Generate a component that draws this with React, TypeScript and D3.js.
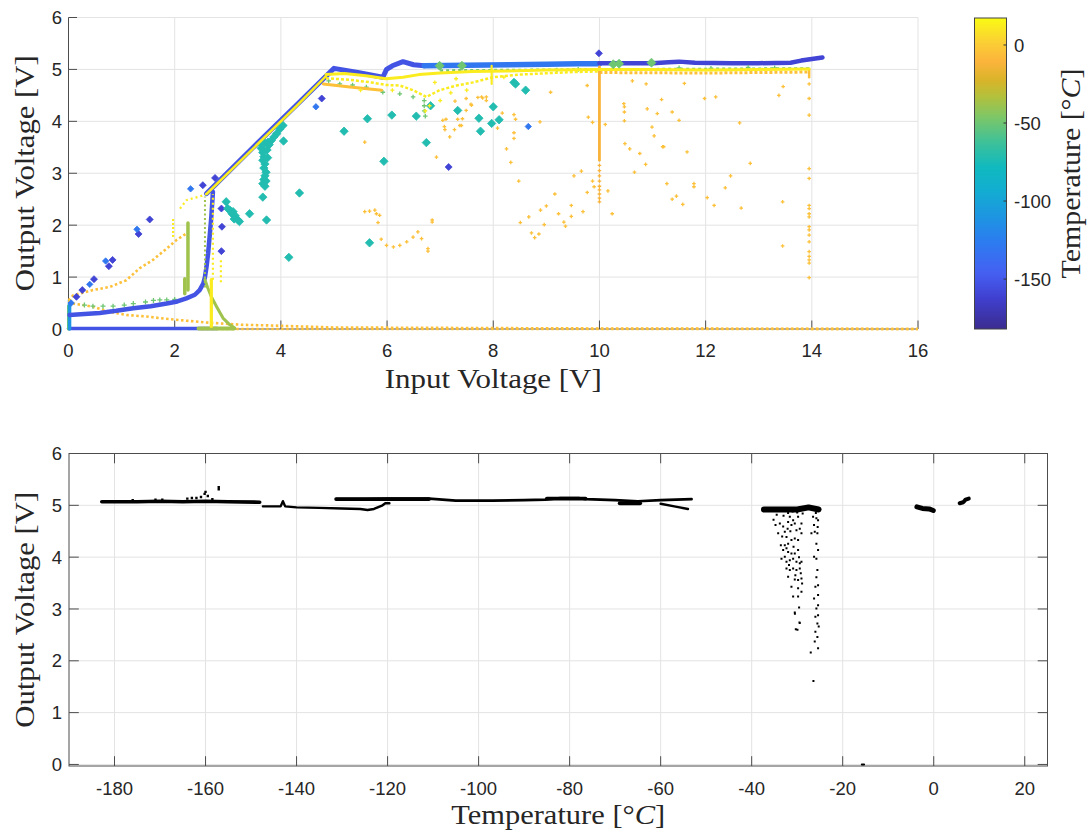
import React from 'react';
import * as d3 from 'd3';

type P = [number, number];

// ---------------- axes / colorbar data ----------------
const topXDomain: P = [0, 16];
const topYDomain: P = [0, 6];
const topXTicks = [0, 2, 4, 6, 8, 10, 12, 14, 16];
const topYTicks = [0, 1, 2, 3, 4, 5, 6];
const botXDomain: P = [-190, 25];
const botYDomain: P = [-0.03, 6];
const botXTicks = [-180, -160, -140, -120, -100, -80, -60, -40, -20, 0, 20];
const botYTicks = [0, 1, 2, 3, 4, 5, 6];
const cbDomain: P = [-182, 17.3];
const cbTicks = [-150, -100, -50, 0];

// ---------------- temperature (°C) of each measurement group ----------------
const T_BLUE = -152;
const T_BLUE_DARK = -160;
const T_LIGHTBLUE = -130;
const T_CYAN = -110;
const T_TEAL = -72;
const T_GREEN = -50;
const T_OLIVE = -38;
const T_ORANGE = -5;
const T_GOLD = -12;
const T_YELLOW = 12;

// ---------------- top plot: Output vs Input voltage ----------------
const blueZero: P[] = [[0.0, 0.01], [2.8, 0.01]];
const blueLowCurve: P[] = [[0.02, 0.27], [0.3, 0.29], [0.59, 0.31], [0.9, 0.35], [1.22, 0.4], [1.55, 0.44], [1.85, 0.49], [2.05, 0.53], [2.22, 0.59], [2.38, 0.66], [2.47, 0.75], [2.54, 0.88], [2.57, 1.0], [2.6, 1.2], [2.63, 1.46], [2.66, 1.8], [2.69, 2.16], [2.72, 2.64]];
const blueRamp: P[] = [[2.6, 2.61], [3.5, 3.52], [4.3, 4.32], [5.0, 5.02], [5.45, 4.94], [5.92, 4.85], [5.99, 5.0], [6.1, 5.07], [6.3, 5.15], [6.5, 5.09], [6.7, 5.07]];
const lightBlueUpper: P[] = [[6.7, 5.07], [7.5, 5.08], [8.3, 5.09], [9.0, 5.1], [9.6, 5.11], [10.0, 5.11]];
const darkBlueUpper: P[] = [[10.0, 5.12], [10.5, 5.12], [11.0, 5.12], [11.3, 5.14], [11.5, 5.15], [11.8, 5.13], [12.5, 5.12], [13.0, 5.12], [13.6, 5.13], [13.8, 5.17], [14.0, 5.2], [14.2, 5.23]];
const blueScatter: P[] = [[0.15, 0.62], [0.26, 0.75], [0.48, 0.96], [0.76, 1.21], [0.83, 1.33], [1.32, 1.83], [1.53, 2.11], [2.53, 2.77], [2.76, 2.91], [2.88, 2.32], [2.89, 1.97], [2.88, 1.5], [4.77, 4.44], [7.16, 3.12], [9.99, 5.31]];
const lightBlueScatter: P[] = [[0.05, 0.5], [0.4, 0.86], [0.7, 1.31], [1.29, 1.92], [2.3, 2.7], [4.66, 4.28], [8.66, 3.9]];
const cyanOrigin: P[] = [[0.02, 0.0], [0.02, 0.55]];

const tealPoints: P[] = [[4.04, 3.92], [3.98, 3.85], [3.92, 3.76], [3.87, 3.7], [3.82, 3.63], [3.76, 3.6], [3.7, 3.58], [3.65, 3.55], [3.63, 3.48], [3.66, 3.4], [3.68, 3.32], [3.66, 3.25], [3.7, 3.18], [3.68, 3.1], [3.72, 3.02], [3.7, 2.95], [3.68, 2.88], [3.66, 2.8], [3.7, 2.75], [3.72, 2.85], [3.75, 3.3], [3.74, 3.45], [3.78, 3.55], [4.05, 3.62], [3.66, 2.54], [3.73, 2.1], [4.35, 2.62], [3.41, 2.22], [4.15, 1.38], [2.97, 2.45], [3.0, 2.32], [3.05, 2.28], [3.1, 2.26], [3.14, 2.18], [3.19, 2.1], [3.22, 2.07], [3.08, 2.22], [3.12, 2.12], [5.19, 3.81], [5.63, 4.05], [6.09, 4.12], [5.94, 3.23], [6.55, 4.1], [6.74, 3.59], [6.82, 4.3], [7.33, 4.21], [7.73, 4.06], [7.76, 3.81], [8.0, 4.28], [8.11, 4.03], [7.97, 3.96], [8.39, 4.75], [8.42, 4.72], [8.61, 4.6], [5.67, 1.66]];

const greenLowRow: P[] = [[0.3, 0.46], [0.46, 0.44], [0.65, 0.44], [0.84, 0.44], [1.05, 0.46], [1.22, 0.49], [1.45, 0.52], [1.6, 0.55], [1.72, 0.56], [1.85, 0.56], [2.0, 0.57]];
const greenVertA: P[] = [[2.25, 0.75], [2.25, 2.04]];
const greenVertA2: P[] = [[2.19, 0.68], [2.19, 0.97]];
const greenVertB: P[] = [[2.57, 0.8], [2.57, 2.55]];
const oliveZero: P[] = [[2.45, 0.01], [3.12, 0.01]];
const oliveDecay: P[] = [[2.57, 0.95], [2.62, 0.8], [2.69, 0.62], [2.79, 0.43], [2.91, 0.21], [3.04, 0.08], [3.13, 0.02]];
const greenOrigin: P[] = [[0.0, 0.0], [0.0, 0.45]];
const greenUpper: P[] = [[4.9, 4.78], [5.11, 4.72], [5.35, 4.7], [5.61, 4.66], [5.92, 4.56], [6.24, 4.53], [6.49, 4.47], [6.7, 4.4], [6.7, 4.3], [6.7, 4.2], [6.72, 4.1], [9.2, 4.99], [9.6, 5.0], [11.5, 5.03], [12.1, 5.02], [12.8, 5.04], [13.3, 5.03]];
const greenBand: P[] = [[7.0, 4.98], [10.0, 5.0], [14.0, 5.02]];
const greenBig: P[] = [[6.99, 5.07], [7.41, 5.07], [10.26, 5.1], [10.37, 5.11], [10.98, 5.13]];

const yellowRamp: P[] = [[2.6, 2.6], [3.5, 3.5], [4.3, 4.3], [4.85, 4.87]];
const yellowVertThick: P[] = [[2.69, 0.05], [2.69, 0.95]];
const yellowVertDotted: P[] = [[2.72, 0.95], [2.72, 2.6]];
const yellowVert2: P[] = [[2.87, 0.9], [2.87, 1.35]];
const yellowVert3: P[] = [[1.97, 1.77], [1.97, 2.13]];
const yellowLowCurve: P[] = [[2.1, 2.32], [2.22, 2.48], [2.35, 2.52], [2.47, 2.55], [2.6, 2.6]];
const yellowUpperA: P[] = [[4.85, 4.9], [5.2, 4.92], [5.6, 4.88], [5.98, 4.82], [6.3, 4.85], [6.6, 4.9], [7.0, 4.93], [7.6, 4.96], [8.25, 4.97], [9.0, 4.99], [10, 5.0], [11, 5.0], [12, 4.99], [13, 5.0], [13.95, 5.01]];
const yellowUpperB: P[] = [[4.85, 4.83], [5.3, 4.8], [5.7, 4.75], [5.98, 4.7], [6.24, 4.69], [6.49, 4.6], [6.74, 4.47], [6.99, 4.6], [7.31, 4.69], [7.62, 4.75], [8.0, 4.85], [8.5, 4.9], [8.88, 4.92], [9.5, 4.95], [10, 4.96]];
const yellowBand: P[] = [[10, 4.94], [12, 4.93], [13.95, 4.95]];
const yellowVert8: P[] = [[7.97, 4.72], [7.97, 5.07]];
const yellowScatter: P[] = [[6.72, 4.2], [7.0, 4.4], [7.2, 4.55], [7.5, 4.6], [8.2, 4.85], [6.8, 4.3], [6.9, 4.75], [7.3, 4.82], [5.5, 4.6], [6.1, 4.6]];

const orangeUpperCurve: P[] = [[0.0, 0.55], [0.09, 0.65], [0.46, 0.75], [0.78, 0.81], [1.09, 0.94], [1.34, 1.17], [1.59, 1.33], [1.85, 1.55], [2.03, 1.71], [2.22, 1.84]];
const orangeLowCurve: P[] = [[0.0, 0.55], [0.09, 0.49], [0.46, 0.43], [0.78, 0.33], [1.09, 0.27], [1.47, 0.24], [1.72, 0.21], [2.22, 0.16], [2.66, 0.12], [3.29, 0.08], [3.73, 0.07], [4.98, 0.03], [7.4, 0.02], [10, 0.01], [16, 0.0]];
const orangeZero: P[] = [[2.5, 0.0], [16, 0.0]];
const orangeDiagBand: P[] = [[4.8, 4.72], [5.3, 4.66], [5.9, 4.6]];
const goldVert10: P[] = [[10.0, 3.25], [10.0, 5.05]];
const goldVert10Sparse: P[] = [[10, 3.15], [10, 3.05], [10, 2.95], [10, 2.85], [10, 2.75], [10, 2.68], [10, 2.6], [10, 2.52], [10, 2.45]];
const orangeVert14: P[] = [[13.95, 4.85], [13.95, 5.0]];
const orangeVert14Sparse: P[] = [[13.95, 4.72], [13.95, 4.44], [13.95, 4.12], [13.95, 3.09], [13.95, 2.9], [13.95, 2.38], [13.95, 2.32], [13.95, 2.22], [13.95, 2.16], [13.95, 1.97], [13.95, 1.91], [13.95, 1.81], [13.95, 1.68], [13.95, 1.49], [13.95, 1.4], [13.95, 1.33], [13.95, 1.27], [13.95, 0.99]];
const orangeCluster: P[] = [[5.58, 2.26], [5.67, 2.27], [5.77, 2.29], [5.8, 2.22], [5.86, 2.19], [5.83, 2.05], [5.89, 1.73], [5.99, 1.61], [6.12, 1.58], [6.24, 1.61], [6.37, 1.68], [6.49, 1.77], [6.58, 1.87], [6.65, 1.74], [6.77, 1.55], [6.77, 1.5], [6.85, 2.06], [6.85, 2.1]];
const orangeScatter: P[] = [[7.18, 3.7], [8.25, 3.47], [8.33, 3.21], [8.48, 2.85], [8.51, 2.05], [8.67, 2.16], [8.72, 1.85], [8.78, 1.76], [8.86, 1.83], [8.89, 2.29], [8.96, 2.01], [9.0, 2.37], [9.16, 2.6], [9.23, 2.22], [9.33, 2.06], [9.36, 1.98], [9.47, 2.17], [9.47, 2.38], [9.52, 2.95], [9.66, 3.04], [9.69, 2.26], [9.77, 2.63], [9.87, 2.85], [9.9, 2.74], [9.79, 4.08], [9.77, 4.69], [9.87, 3.98], [10.11, 3.94], [10.16, 2.66], [10.24, 2.22], [9.08, 4.56], [8.88, 3.99], [8.39, 4.13], [8.42, 4.04], [8.39, 3.78], [8.39, 3.67], [8.08, 3.87], [7.87, 4.47], [7.87, 4.4], [7.8, 4.45], [7.71, 4.46], [7.59, 4.31], [7.49, 4.21], [7.4, 3.92], [7.33, 4.04], [7.11, 4.04], [7.09, 3.84], [7.27, 3.84], [10.46, 4.34], [10.47, 4.28], [10.47, 4.18], [10.47, 4.01], [10.48, 3.57], [10.57, 3.47], [10.62, 4.78], [10.76, 3.38], [10.66, 3.02], [10.87, 3.17], [10.88, 4.72], [10.9, 4.24], [10.99, 3.89], [11.03, 3.72], [11.09, 4.15], [11.17, 4.42], [11.19, 3.51], [11.21, 3.51], [11.27, 2.8], [11.37, 4.18], [11.37, 2.5], [11.45, 2.56], [11.5, 4.02], [11.57, 2.4], [11.6, 4.73], [11.65, 3.41], [11.78, 2.8], [11.78, 2.74], [11.98, 4.44], [12.03, 2.53], [12.16, 2.38], [12.19, 4.47], [12.37, 2.72], [12.47, 2.95], [12.64, 3.97], [12.67, 2.33], [12.84, 3.19], [13.38, 4.5], [13.46, 4.67], [13.45, 2.45], [13.45, 1.6], [5.58, 3.6], [6.93, 3.31], [7.28, 4.39], [7.49, 4.44], [7.58, 4.33], [7.78, 4.47], [8.17, 4.16], [7.05, 4.02], [7.08, 3.9], [7.37, 3.92], [7.42, 4.05]];

// ---------------- bottom plot: Output voltage vs temperature ----------------
const band1: P[] = [[-182.8, 5.07], [-175, 5.07], [-170, 5.08], [-165, 5.07], [-160, 5.08], [-155, 5.07], [-148.1, 5.06]];
const band1Bumps: P[] = [[-164, 5.13], [-163, 5.14], [-162, 5.14], [-161, 5.16], [-160.2, 5.22], [-160, 5.26], [-159.5, 5.18], [-158.5, 5.12], [-171, 5.11], [-169.5, 5.11], [-176, 5.1], [-157.1, 5.31], [-157.1, 5.35]];
const band2: P[] = [[-147.4, 4.98], [-143.5, 4.98], [-143, 5.08], [-142.5, 4.98], [-140, 4.96], [-135, 4.95], [-130, 4.94], [-126, 4.93], [-124.4, 4.91], [-123, 4.93], [-121.1, 5.0], [-120.5, 5.04], [-119.6, 5.04]];
const band3: P[] = [[-131.3, 5.12], [-125, 5.12], [-120, 5.13], [-115, 5.13], [-110.9, 5.13], [-105, 5.09], [-97, 5.09], [-90, 5.1], [-85.3, 5.11], [-82, 5.14], [-78, 5.14], [-76.5, 5.12], [-70, 5.1], [-65, 5.08], [-60, 5.1], [-53.2, 5.12]];
const band3Thick: P[] = [[-131.3, 5.12], [-110.9, 5.12]];
const band3Thick2: P[] = [[-85, 5.13], [-76.5, 5.13]];
const band3Dip: P[] = [[-69, 5.04], [-64.5, 5.04]];
const band4: P[] = [[-60, 5.03], [-57, 4.98], [-54, 4.93]];
const cluster1: P[] = [[-37.3, 4.92], [-30, 4.92], [-27.5, 4.96], [-25.3, 4.92]];
const cluster2: P[] = [[-3.7, 4.97], [-2.5, 4.94], [-1, 4.93], [-0.1, 4.9]];
const cluster3: P[] = [[5.7, 5.04], [6.5, 5.06], [7.0, 5.11], [7.7, 5.13]];
const leftCloud: P[] = [[-34.76, 4.62], [-33.81, 4.65], [-34.18, 4.46], [-33.08, 4.59], [-32.72, 4.49], [-31.99, 4.68], [-31.26, 4.62], [-30.89, 4.71], [-31.62, 4.78], [-30.53, 4.65], [-29.8, 4.78], [-30.16, 4.52], [-29.43, 4.55], [-29.06, 4.65], [-32.35, 4.39], [-33.59, 4.23], [-32.72, 4.23], [-31.99, 4.26], [-31.26, 4.33], [-30.53, 4.36], [-29.8, 4.33], [-29.06, 4.46], [-31.99, 4.1], [-31.26, 4.07], [-30.53, 4.07], [-29.8, 4.14], [-33.45, 3.97], [-32.72, 4.01], [-32.35, 3.91], [-31.62, 3.94], [-30.89, 3.97], [-30.16, 3.91], [-29.43, 3.88], [-29.06, 3.91], [-32.35, 3.78], [-31.62, 3.75], [-30.89, 3.78], [-30.16, 3.75], [-29.43, 3.78], [-31.99, 3.62], [-30.53, 3.57], [-29.8, 3.56], [-29.06, 3.59], [-31.26, 3.43], [-29.8, 3.4], [-30.89, 3.24], [-29.8, 3.24], [-29.06, 3.33], [-29.58, 3.03], [-30.53, 2.93], [-29.43, 2.73], [-29.94, 2.6], [-29.21, 3.69], [-28.92, 3.49], [-33.08, 4.14], [-32.35, 4.17], [-30.5, 2.91], [-30.3, 2.61], [-29.5, 2.74], [-35.2, 4.72], [-34.5, 4.82], [-33.0, 4.8], [-32.0, 4.85], [-31.0, 4.88], [-30.0, 4.86], [-28.8, 4.84], [-33.3, 4.4], [-31.5, 4.5], [-30.8, 4.2], [-29.6, 4.0], [-31.8, 3.85], [-30.4, 3.65], [-32.1, 4.55], [-30.2, 4.95]];
const rightColumn: P[] = [[-26.51, 4.78], [-25.78, 4.75], [-25.41, 4.71], [-26.14, 4.49], [-25.56, 4.46], [-26.87, 4.46], [-25.78, 4.26], [-25.41, 4.14], [-25.78, 3.97], [-26.29, 4.01], [-25.56, 3.75], [-25.78, 3.61], [-25.41, 3.46], [-26.0, 3.43], [-25.41, 3.27], [-26.29, 3.2], [-25.41, 3.07], [-25.78, 3.01], [-25.41, 2.88], [-26.0, 2.85], [-25.56, 2.72], [-25.27, 2.66], [-26.0, 2.56], [-25.56, 2.46], [-26.14, 2.37], [-25.41, 2.24], [-27.02, 2.16], [-26.43, 1.61], [-25.9, 4.85], [-25.5, 4.58], [-26.3, 4.62]];
const zeroPoint: P[] = [[-15.8, 0.0], [-15.3, 0.0]];

// ---------------- colormap (parula-like) ----------------
const parulaStops: [number, string][] = [
  [0.0, '#3b2c8f'], [0.1, '#4040d0'], [0.18, '#4560f2'], [0.28, '#2c7cf0'], [0.36, '#1e95e2'],
  [0.45, '#12aed0'], [0.52, '#10b9bf'], [0.6, '#3ec199'], [0.68, '#7cc768'], [0.75, '#b5c03a'],
  [0.8, '#d9b429'], [0.86, '#fcb43c'], [0.92, '#fbce35'], [1.0, '#f9fb14'],
];
const cmap = d3.scaleLinear<string>()
  .domain(parulaStops.map(s => cbDomain[0] + s[0] * (cbDomain[1] - cbDomain[0])))
  .range(parulaStops.map(s => s[1]))
  .interpolate(d3.interpolateRgb)
  .clamp(true);

type Mode = 'line' | 'plus' | 'diamond' | 'dots';
type Trace = { pts: P[]; t?: number; color?: string; mode: Mode; w: number; dash?: string; cap?: 'round' | 'butt' };

const topTraces: Trace[] = [
  { pts: orangeZero, t: T_ORANGE, mode: 'line', w: 2.4, dash: '2.5 2.5', cap: 'butt' },
  { pts: blueZero, t: T_BLUE, mode: 'line', w: 3.5 },
  { pts: greenOrigin, t: T_GREEN, mode: 'line', w: 3 },
  { pts: cyanOrigin, t: T_CYAN, mode: 'line', w: 3.5 },
  { pts: orangeLowCurve, t: T_ORANGE, mode: 'line', w: 2.6, dash: '2.5 2.5', cap: 'butt' },
  { pts: orangeUpperCurve, t: T_ORANGE, mode: 'line', w: 2.6, dash: '2.5 2.5', cap: 'butt' },
  { pts: greenLowRow, t: T_GREEN, mode: 'plus', w: 2.5 },
  { pts: blueLowCurve, t: T_BLUE, mode: 'line', w: 4.5 },
  { pts: blueRamp, t: T_BLUE, mode: 'line', w: 5 },
  { pts: lightBlueUpper, t: T_LIGHTBLUE, mode: 'line', w: 5.5 },
  { pts: darkBlueUpper, t: T_BLUE_DARK, mode: 'line', w: 4.5 },
  { pts: blueScatter, t: T_BLUE_DARK, mode: 'diamond', w: 3.5 },
  { pts: lightBlueScatter, t: T_LIGHTBLUE, mode: 'diamond', w: 3.2 },
  { pts: greenVertA, t: T_OLIVE, mode: 'line', w: 3.5 },
  { pts: greenVertA2, t: T_OLIVE, mode: 'line', w: 3.5 },
  { pts: greenVertB, t: T_OLIVE, mode: 'line', w: 2, dash: '2 2.5', cap: 'butt' },
  { pts: oliveZero, t: T_OLIVE, mode: 'line', w: 4 },
  { pts: oliveDecay, t: T_OLIVE, mode: 'line', w: 3 },
  { pts: tealPoints, t: T_TEAL, mode: 'diamond', w: 4.2 },
  { pts: greenUpper, t: T_GREEN, mode: 'plus', w: 2.3 },
  { pts: greenBand, t: T_GREEN, mode: 'line', w: 2.5, dash: '3 3', cap: 'butt' },
  { pts: orangeDiagBand, t: T_ORANGE, mode: 'line', w: 3 },
  { pts: yellowBand, t: T_ORANGE, mode: 'line', w: 3, dash: '3 2', cap: 'butt' },
  { pts: goldVert10, t: T_GOLD, mode: 'line', w: 2.8 },
  { pts: goldVert10Sparse, t: T_GOLD, mode: 'plus', w: 1.8 },
  { pts: orangeVert14, t: T_ORANGE, mode: 'line', w: 2.5 },
  { pts: orangeVert14Sparse, t: T_ORANGE, mode: 'plus', w: 1.8 },
  { pts: orangeCluster, t: T_ORANGE, mode: 'plus', w: 1.8 },
  { pts: orangeScatter, t: T_ORANGE, mode: 'plus', w: 1.8 },
  { pts: yellowUpperB, t: T_YELLOW, mode: 'line', w: 2.5, dash: '3 2', cap: 'butt' },
  { pts: yellowUpperA, t: T_YELLOW, mode: 'line', w: 3 },
  { pts: yellowVert8, t: T_YELLOW, mode: 'line', w: 2.2 },
  { pts: yellowScatter, t: T_YELLOW, mode: 'plus', w: 2 },
  { pts: yellowRamp, t: T_YELLOW, mode: 'line', w: 2.5 },
  { pts: yellowLowCurve, t: T_YELLOW, mode: 'line', w: 2.2, dash: '2 3', cap: 'butt' },
  { pts: yellowVert3, t: T_YELLOW, mode: 'line', w: 2.2, dash: '2 2', cap: 'butt' },
  { pts: yellowVertDotted, t: T_YELLOW, mode: 'line', w: 2.2, dash: '2 3', cap: 'butt' },
  { pts: yellowVert2, t: T_YELLOW, mode: 'line', w: 2.2, dash: '2 3', cap: 'butt' },
  { pts: yellowVertThick, t: T_YELLOW, mode: 'line', w: 3.2 },
  { pts: greenBig, t: T_GREEN, mode: 'diamond', w: 4.5 },
];

const botTraces: Trace[] = [
  { pts: band1, color: '#000', mode: 'line', w: 3.6 },
  { pts: band1Bumps, color: '#000', mode: 'dots', w: 2.4 },
  { pts: band2, color: '#000', mode: 'line', w: 2.4 },
  { pts: band3, color: '#000', mode: 'line', w: 2.6 },
  { pts: band3Thick, color: '#000', mode: 'line', w: 3.8 },
  { pts: band3Thick2, color: '#000', mode: 'line', w: 3.8 },
  { pts: band3Dip, color: '#000', mode: 'line', w: 3.8 },
  { pts: band4, color: '#000', mode: 'line', w: 2.4 },
  { pts: cluster1, color: '#000', mode: 'line', w: 6 },
  { pts: cluster2, color: '#000', mode: 'line', w: 5 },
  { pts: cluster3, color: '#000', mode: 'line', w: 4 },
  { pts: leftCloud, color: '#000', mode: 'dots', w: 2 },
  { pts: rightColumn, color: '#000', mode: 'dots', w: 2 },
  { pts: zeroPoint, color: '#000', mode: 'line', w: 2 },
];

const SANS = '"Liberation Sans", Arial, Helvetica, sans-serif';
const SERIF = '"Liberation Serif", "Times New Roman", serif';
const TICK_COLOR = '#262626';
const GRID = '#e3e3e3';
const TICK_FS = 18.5;

function renderTrace(tr: Trace, xs: d3.ScaleLinear<number, number>, ys: d3.ScaleLinear<number, number>, key: string) {
  const col = tr.color ?? cmap(tr.t as number);
  if (tr.mode === 'line') {
    const line = d3.line<P>().x(d => xs(d[0])).y(d => ys(d[1]));
    return (
      <path key={key} d={line(tr.pts) || ''} fill="none" stroke={col} strokeWidth={tr.w}
        strokeLinecap={tr.cap ?? 'round'} strokeLinejoin="round" strokeDasharray={tr.dash} />
    );
  }
  if (tr.mode === 'plus') {
    const s = tr.w;
    const d = tr.pts.map(p => {
      const X = xs(p[0]), Y = ys(p[1]);
      return `M${X - s},${Y}H${X + s}M${X},${Y - s}V${Y + s}`;
    }).join('');
    return <path key={key} d={d} stroke={col} strokeWidth={1.3} fill="none" />;
  }
  if (tr.mode === 'diamond') {
    const s = tr.w;
    const d = tr.pts.map(p => {
      const X = xs(p[0]), Y = ys(p[1]);
      return `M${X},${Y - s}L${X + s},${Y}L${X},${Y + s}L${X - s},${Y}Z`;
    }).join('');
    return <path key={key} d={d} fill={col} stroke={col} strokeWidth={0.8} />;
  }
  const s = tr.w;
  const d = tr.pts.map(p => {
    const X = xs(p[0]), Y = ys(p[1]);
    return `M${X - s / 2},${Y - s / 2}h${s}v${s}h${-s}Z`;
  }).join('');
  return <path key={key} d={d} fill={col} />;
}

export default function App() {
  const W = 1092, H = 831;
  const top = { l: 68.5, r: 918, t: 17.5, b: 329 };
  const bot = { l: 69, r: 1047.5, t: 453.5, b: 766 };
  const cb = { l: 974.5, r: 1006.5, t: 18, b: 329 };

  const x1 = d3.scaleLinear().domain(topXDomain).range([top.l, top.r]);
  const y1 = d3.scaleLinear().domain(topYDomain).range([top.b, top.t]);
  const x2 = d3.scaleLinear().domain(botXDomain).range([bot.l, bot.r]);
  const y2 = d3.scaleLinear().domain(botYDomain).range([bot.b, bot.t]);
  const yc = d3.scaleLinear().domain(cbDomain).range([cb.b, cb.t]);

  const tickLen1 = 8.5;
  const tickLen2 = 9.8;

  return (
    <svg width={W} height={H} viewBox={`0 0 ${W} ${H}`} style={{ position: 'absolute', left: 0, top: 0, background: '#fff' }}>
      <defs>
        <linearGradient id="parula" x1="0" y1="1" x2="0" y2="0">
          {parulaStops.map((s, i) => <stop key={i} offset={s[0]} stopColor={s[1]} />)}
        </linearGradient>
      </defs>
      <rect x={0} y={0} width={W} height={H} fill="#fff" />

      {/* ---------- TOP PLOT ---------- */}
      <g>
        {topXTicks.filter(t => t !== 0).map(t => (
          <line key={'gx' + t} x1={x1(t)} x2={x1(t)} y1={top.b} y2={top.t} stroke={GRID} strokeWidth={1} />
        ))}
        {topYTicks.filter(t => t !== 0).map(t => (
          <line key={'gy' + t} x1={top.l} x2={top.r} y1={y1(t)} y2={y1(t)} stroke={GRID} strokeWidth={1} />
        ))}
        <line x1={top.l} x2={top.l} y1={top.t} y2={top.b} stroke="#4d4d4d" strokeWidth={1} />
        <line x1={top.l} x2={top.r} y1={top.b} y2={top.b} stroke="#4d4d4d" strokeWidth={1} />
        {topXTicks.map(t => (
          <line key={'tx' + t} x1={x1(t)} x2={x1(t)} y1={top.b} y2={top.b - tickLen1} stroke="#4d4d4d" strokeWidth={1} />
        ))}
        {topYTicks.map(t => (
          <line key={'ty' + t} x1={top.l} x2={top.l + tickLen1} y1={y1(t)} y2={y1(t)} stroke="#4d4d4d" strokeWidth={1} />
        ))}
        {topTraces.map((tr, i) => renderTrace(tr, x1, y1, 'top' + i))}
        {topXTicks.map(t => (
          <text key={'lx' + t} x={x1(t)} y={357} textAnchor="middle" fontFamily={SANS} fontSize={TICK_FS} fill={TICK_COLOR}>{t}</text>
        ))}
        {topYTicks.map(t => (
          <text key={'ly' + t} x={62} y={y1(t) + 6.6} textAnchor="end" fontFamily={SANS} fontSize={TICK_FS} fill={TICK_COLOR}>{t}</text>
        ))}
        <text x={(top.l + top.r) / 2} y={388} textAnchor="middle" fontFamily={SERIF} fontSize={27} fill={TICK_COLOR}
          textLength={217} lengthAdjust="spacingAndGlyphs">Input Voltage [V]</text>
        <text transform={`translate(33.5,${(top.t + top.b) / 2}) rotate(-90)`} textAnchor="middle" fontFamily={SERIF} fontSize={27}
          fill={TICK_COLOR} textLength={236} lengthAdjust="spacingAndGlyphs">Output Voltage [V]</text>
      </g>

      {/* ---------- COLORBAR ---------- */}
      <g>
        <rect x={cb.l} y={cb.t} width={cb.r - cb.l} height={cb.b - cb.t} fill="url(#parula)" stroke="#444" strokeWidth={1} />
        {cbTicks.map(t => (
          <line key={'cbt' + t} x1={cb.r - 3} x2={cb.r} y1={yc(t)} y2={yc(t)} stroke="#333" strokeWidth={1} />
        ))}
        {cbTicks.map(t => (
          <text key={'cbl' + t} x={1014} y={yc(t) + 6.6} fontFamily={SANS} fontSize={TICK_FS} fill={TICK_COLOR}>{t}</text>
        ))}
        <text transform={`translate(1080,${(cb.t + cb.b) / 2}) rotate(-90)`} textAnchor="middle" fontFamily={SERIF} fontSize={27}
          fill={TICK_COLOR} textLength={210} lengthAdjust="spacingAndGlyphs">
          Temperature [<tspan>°</tspan><tspan fontStyle="italic">C</tspan>]
        </text>
      </g>

      {/* ---------- BOTTOM PLOT ---------- */}
      <g>
        {botXTicks.map(t => (
          <line key={'bgx' + t} x1={x2(t)} x2={x2(t)} y1={bot.b} y2={bot.t} stroke={GRID} strokeWidth={1} />
        ))}
        {botYTicks.filter(t => t !== 6).map(t => (
          <line key={'bgy' + t} x1={bot.l} x2={bot.r} y1={y2(t)} y2={y2(t)} stroke={GRID} strokeWidth={1} />
        ))}
        {botXTicks.map(t => (
          <g key={'btx' + t}>
            <line x1={x2(t)} x2={x2(t)} y1={bot.b} y2={bot.b - tickLen2} stroke="#4d4d4d" strokeWidth={1} />
            <line x1={x2(t)} x2={x2(t)} y1={bot.t} y2={bot.t + tickLen2} stroke="#4d4d4d" strokeWidth={1} />
          </g>
        ))}
        {botYTicks.map(t => (
          <g key={'bty' + t}>
            <line x1={bot.l} x2={bot.l + tickLen2} y1={y2(t)} y2={y2(t)} stroke="#4d4d4d" strokeWidth={1} />
            <line x1={bot.r} x2={bot.r - tickLen2} y1={y2(t)} y2={y2(t)} stroke="#4d4d4d" strokeWidth={1} />
          </g>
        ))}
        <rect x={bot.l} y={bot.t} width={bot.r - bot.l} height={bot.b - bot.t} fill="none" stroke="#4d4d4d" strokeWidth={1} />
        {botTraces.map((tr, i) => renderTrace(tr, x2, y2, 'bot' + i))}
        {botXTicks.map(t => (
          <text key={'blx' + t} x={x2(t)} y={795} textAnchor="middle" fontFamily={SANS} fontSize={TICK_FS} fill={TICK_COLOR}>{t}</text>
        ))}
        {botYTicks.map(t => (
          <text key={'bly' + t} x={62} y={y2(t) + 6.6} textAnchor="end" fontFamily={SANS} fontSize={TICK_FS} fill={TICK_COLOR}>{t}</text>
        ))}
        <text x={(bot.l + bot.r) / 2} y={824} textAnchor="middle" fontFamily={SERIF} fontSize={27} fill={TICK_COLOR}
          textLength={214} lengthAdjust="spacingAndGlyphs">
          Temperature [<tspan>°</tspan><tspan fontStyle="italic">C</tspan>]
        </text>
        <text transform={`translate(33.5,${(bot.t + bot.b) / 2}) rotate(-90)`} textAnchor="middle" fontFamily={SERIF} fontSize={27}
          fill={TICK_COLOR} textLength={236} lengthAdjust="spacingAndGlyphs">Output Voltage [V]</text>
      </g>
    </svg>
  );
}
